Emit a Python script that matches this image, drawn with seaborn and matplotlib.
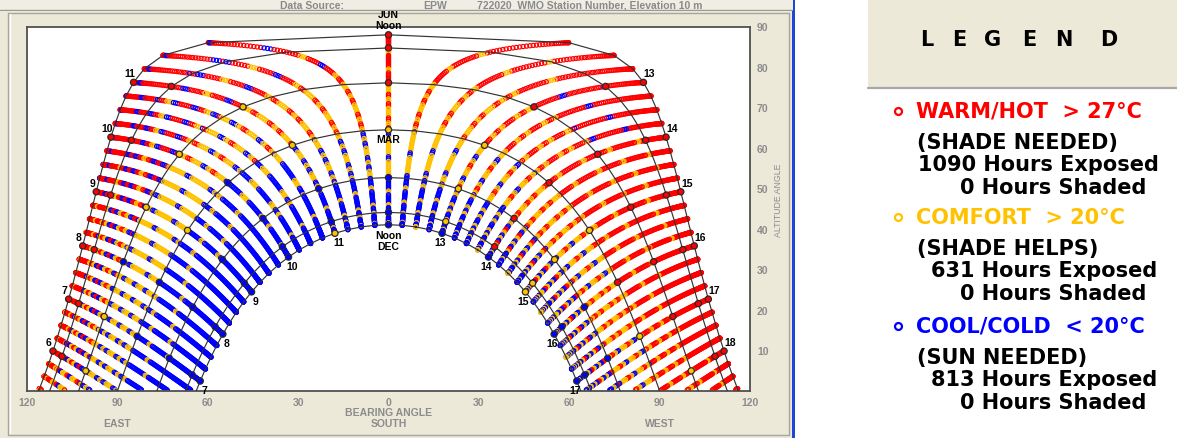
import numpy as np
import pandas as pd
import matplotlib
matplotlib.use("Agg")
import matplotlib.pyplot as plt
import seaborn as sns
from matplotlib.patches import Rectangle

sns.set_style("white")
plt.rcParams["font.family"] = ["Liberation Sans", "DejaVu Sans"]

# ---------------------------------------------------------------- data
LATITUDE = 25.5                      # site latitude (deg N), read from noon altitudes
PATH_MONTHS = ["JUN", "MAY", "APR", "MAR", "FEB", "JAN", "DEC"]
PATH_DECLINATIONS = [23.45, 20.2, 11.6, 0.0, -11.8, -20.4, -23.45]
HOUR_LINE_TIMES = [h + q / 4 for h in range(5, 19) for q in range(4) if 5.25 <= h + q / 4 <= 18.75]
SAMPLE_DAYS = list(range(0, 183))    # days after 21 June
RUN_DAYS = 3                         # consecutive days sharing one class in a pattern step
CLASS_KEYS = ["R", "Y", "B"]
CLASS_NAMES = ["WARM/HOT", "COMFORT", "COOL/COLD"]
CLASS_COLORS = ["#ff0000", "#ffc200", "#0000ff"]
CLASS_LIMITS = ["> 27°C", "> 20°C", "< 20°C"]
CLASS_NOTES = ["(SHADE NEEDED)", "(SHADE HELPS)", "(SUN NEEDED)"]
HOURS_EXPOSED = [1090, 631, 813]
HOURS_SHADED = [0, 0, 0]
# temperature class seen along each 15-min hour line, per clock hour and per band
# between day paths: JUN-MAY, MAY-APR, APR-MAR, MAR-FEB, FEB-JAN, JAN-DEC
CLASS_PATTERNS = {
    5:  ["RRRY", "YRBY", "YBYB", "B", "B", "B"],
    6:  ["RRRRY", "RYBRBY", "YYBYB", "BBBBBY", "B", "B"],
    7:  ["RRRRRRY", "RBYRYB", "YYBYYB", "BBBBBY", "B", "B"],
    8:  ["RRRRRRY", "RYBRBY", "YYYBY", "BBBBBBY", "B", "B"],
    9:  ["RRRRRB", "RBRYRB", "YYBYY", "BBBBY", "B", "B"],
    10: ["RRRRRB", "RRBRYB", "YRYYB", "YBBBBY", "BBBBBBY", "B"],
    11: ["RRRRRRB", "RRYRRB", "RYYRY", "YYBYB", "BBBBY", "BBBBBY"],
    12: ["R", "RRRRY", "RYRYY", "YYYBY", "BBBY", "BBBBY"],
    13: ["R", "RRRRRB", "RRYRY", "YRYYB", "BYBYB", "BBYB"],
    14: ["R", "RRRRRY", "RRRYR", "YRYYR", "YBYBR", "BYBB"],
    15: ["R", "RRRRRRY", "RRRYR", "YRYYB", "YBYRB", "BYBY"],
    16: ["R", "R", "RRRRY", "YRYRY", "YBYBR", "BYBY"],
    17: ["R", "R", "RRYRRY", "YRYYB", "BYBYR", "BYB"],
    18: ["R", "RRRRRY", "RRYR", "YRY", "Y", "Y"],
}
X_TICKS = [-120, -90, -60, -30, 0, 30, 60, 90, 120]
X_TICK_LABELS = ["120", "90", "60", "30", "0", "30", "60", "90", "120"]
Y_TICKS = [10, 20, 30, 40, 50, 60, 70, 80, 90]
JUN_LABEL_HOURS = [6, 7, 8, 9, 10, 11, 13, 14, 15, 16, 17, 18]
DEC_LABEL_HOURS = [7, 8, 9, 10, 11, 13, 14, 15, 16, 17]


def sun_position(hour, dec_deg):
    lat = np.radians(LATITUDE)
    d = np.radians(dec_deg)
    h = np.radians((np.asarray(hour) - 12.0) * 15.0)
    s = np.sin(lat) * np.sin(d) + np.cos(lat) * np.cos(d) * np.cos(h)
    alt = np.degrees(np.arcsin(s))
    brg = np.degrees(np.arctan2(np.sin(h), np.cos(h) * np.sin(lat) - np.tan(d) * np.cos(lat)))
    return brg, alt


def class_at(hour, day, k):
    pats = CLASS_PATTERNS[int(hour)]
    band = min(int(day / 30.5), 5)
    p = pats[band]
    return CLASS_NAMES[CLASS_KEYS.index(p[(day // RUN_DAYS + k) % len(p)])]


# hour-line points
recs = []
for k, t in enumerate(HOUR_LINE_TIMES):
    for d in SAMPLE_DAYS:
        dec = 23.45 * np.cos(2 * np.pi * d / 365.0)
        b, a = sun_position(t, dec)
        if a > 0.2:
            recs.append((float(b), float(a), class_at(t, d, k)))
pts = pd.DataFrame(recs, columns=["bearing", "altitude", "cls"])

# day paths
prec = []
path_times = np.arange(4.0, 20.01, 0.25)
for m, dec in zip(PATH_MONTHS, PATH_DECLINATIONS):
    b, a = sun_position(path_times, dec)
    for bi, ai in zip(b, a):
        if ai > -8:
            prec.append((m, float(bi), float(ai)))
paths = pd.DataFrame(prec, columns=["month", "bearing", "altitude"])

# whole-hour marks on day paths
hrec = []
for i, (m, dec) in enumerate(zip(PATH_MONTHS, PATH_DECLINATIONS)):
    day = int(round(i * 30.5))
    for h in range(5, 20):
        b, a = sun_position(h, dec)
        if a > 0.5:
            hrec.append((float(b), float(a), class_at(h, min(day, 182), h)))
hmarks = pd.DataFrame(hrec, columns=["bearing", "altitude", "cls"])

# ---------------------------------------------------------------- figure
W, H = 1177, 439
fig = plt.figure(figsize=(W / 100, H / 100), dpi=100)
fig.patch.set_facecolor("white")

bg = fig.add_axes([0, 0, 1, 1], zorder=0)
bg.set_xlim(0, W)
bg.set_ylim(H, 0)
bg.axis("off")
BEIGE = "#ece9d8"
bg.add_patch(Rectangle((0, 0), 793, H, fc=BEIGE, ec="none"))
bg.plot([8, 789], [13.5, 13.5], color="#a7a69e", lw=1)
bg.plot([8, 8], [13.5, 436], color="#a7a69e", lw=1)
bg.plot([9.5, 9.5], [15, 434.5], color="white", lw=1)
bg.plot([8, 789], [436, 436], color="#a7a69e", lw=1)
bg.plot([789, 789], [13.5, 436], color="#a7a69e", lw=1)
bg.add_patch(Rectangle((792, 0), 3, H, fc="#1d48d6", ec="none"))

# legend panel
LFONT = ["DejaVu Sans"]
bg.add_patch(Rectangle((868, 0), 309, 88, fc=BEIGE, ec="none"))
bg.plot([868, 1177], [88.8, 88.8], color="#a8a8a8", lw=1.6)
for ch, cx in zip("LEGEND", [927, 959, 993, 1029, 1064, 1109]):
    bg.text(cx, 40, ch, ha="center", va="center", fontsize=15, fontweight="bold",
            color="black", family=LFONT)
block_y = [112, 218, 327]
for i in range(3):
    y0 = block_y[i]
    tk = dict(ha="left", va="center", fontsize=15, fontweight="bold", family=LFONT)
    bg.plot([898], [y0], marker="o", ms=5, mfc="none", mec=CLASS_COLORS[i], mew=1.6)
    bg.text(916, y0, f"{CLASS_NAMES[i]}  {CLASS_LIMITS[i]}", color=CLASS_COLORS[i], **tk)
    bg.text(917, y0 + 31, CLASS_NOTES[i], color="black", **tk)
    exp_x = 918 if HOURS_EXPOSED[i] >= 1000 else 931
    bg.text(exp_x, y0 + 53, f"{HOURS_EXPOSED[i]} Hours Exposed", color="black", **tk)
    bg.text(960, y0 + 76, f"{HOURS_SHADED[i]} Hours Shaded", color="black", **tk)

# chart axes
L, R, T, B = 27, 750, 27.5, 392
ax = fig.add_axes([L / W, 1 - B / H, (R - L) / W, (B - T) / H], zorder=1)
ax.set_facecolor("white")

sns.scatterplot(data=pts, x="bearing", y="altitude", hue="cls", hue_order=CLASS_NAMES,
                palette=CLASS_COLORS, s=9, linewidth=0.85, legend=False, ax=ax, zorder=2)
coll = ax.collections[0]
fc = coll.get_facecolors()
coll.set_edgecolors(fc)
coll.set_facecolors("none")

sns.lineplot(data=paths, x="bearing", y="altitude", units="month", estimator=None,
             sort=False, color="#333333", lw=0.85, ax=ax, zorder=3)

sns.scatterplot(data=hmarks, x="bearing", y="altitude", hue="cls", hue_order=CLASS_NAMES,
                palette=CLASS_COLORS, s=20, edgecolor="#2a2a2a", linewidth=0.9,
                legend=False, ax=ax, zorder=4)

ax.set_xlim(-120, 120)
ax.set_ylim(0, 90)
ax.set_xticks(X_TICKS)
ax.set_xticklabels(X_TICK_LABELS)
ax.set_yticks(Y_TICKS)
ax.yaxis.tick_right()
ax.tick_params(axis="both", length=0, labelsize=7.5, labelcolor="#8c8c8c")
ax.tick_params(axis="x", pad=4)
ax.tick_params(axis="y", pad=5)
for lab in ax.get_xticklabels() + ax.get_yticklabels():
    lab.set_fontweight("bold")
ax.set_xlabel("")
ax.set_ylabel("")
for sp in ax.spines.values():
    sp.set_color("#505050")
    sp.set_linewidth(1.3)
    sp.set_visible(True)

gray_kw = dict(fontsize=7.5, fontweight="bold", color="#8c8c8c", ha="center", va="center",
               transform=ax.get_xaxis_transform(), clip_on=False)
ax.text(0, -(413 - B) / (B - T), "BEARING ANGLE", **gray_kw)
ax.text(-90, -(424 - B) / (B - T), "EAST", **gray_kw)
ax.text(0, -(424 - B) / (B - T), "SOUTH", **gray_kw)
ax.text(90, -(424 - B) / (B - T), "WEST", **gray_kw)
ax.text((778 - L) / (R - L), (B - 200) / (B - T), "ALTITUDE ANGLE", rotation=90,
        transform=ax.transAxes, ha="center", va="center", fontsize=6.3,
        color="#8c8c8c", clip_on=False)

lab_kw = dict(textcoords="offset pixels", fontsize=7.5, fontweight="bold", color="black",
              ha="center", va="center", annotation_clip=False, zorder=6)
for h in JUN_LABEL_HOURS:
    b, a = sun_position(h, PATH_DECLINATIONS[0])
    off = (-4, 9) if h < 12 else (6, 9)
    ax.annotate(str(h), (b, a), xytext=off, **lab_kw)
for h in DEC_LABEL_HOURS:
    b, a = sun_position(h, PATH_DECLINATIONS[-1])
    off = (4, -9) if h < 12 else (-2, -9)
    ax.annotate(str(h), (b, a), xytext=off, **lab_kw)
b, a = sun_position(12, PATH_DECLINATIONS[3])
ax.annotate("MAR", (b, a), xytext=(0, -9), **lab_kw)
b, a = sun_position(12, PATH_DECLINATIONS[-1])
ax.annotate("Noon", (b, a), xytext=(0, -10), **lab_kw)
ax.annotate("DEC", (b, a), xytext=(0, -21), **lab_kw)
b, a = sun_position(12, PATH_DECLINATIONS[0])
ax.annotate("Noon", (b, a), xytext=(0, 10), **lab_kw)
ax.annotate("JUN", (b, a), xytext=(0, 21), **lab_kw)

# top strip of the window
top = fig.add_axes([0, 1 - 12 / H, 793 / W, 12 / H], zorder=3)
top.set_xlim(0, 793)
top.set_ylim(12, 0)
top.axis("off")
top.add_patch(Rectangle((0, 0), 793, 12, fc="#efede4", ec="none"))
top.plot([0, 793], [11.2, 11.2], color="#9a9992", lw=1)
tkw = dict(fontsize=7.5, fontweight="bold", color="#8a8a8a", ha="left", va="top")
top.text(280, 0.6, "Data Source:", **tkw)
top.text(423, 0.6, "EPW", **tkw)
top.text(477, 0.6, "722020  WMO Station Number, Elevation 10 m", **tkw)

fig.savefig("out.png", dpi=100, facecolor=fig.get_facecolor())
